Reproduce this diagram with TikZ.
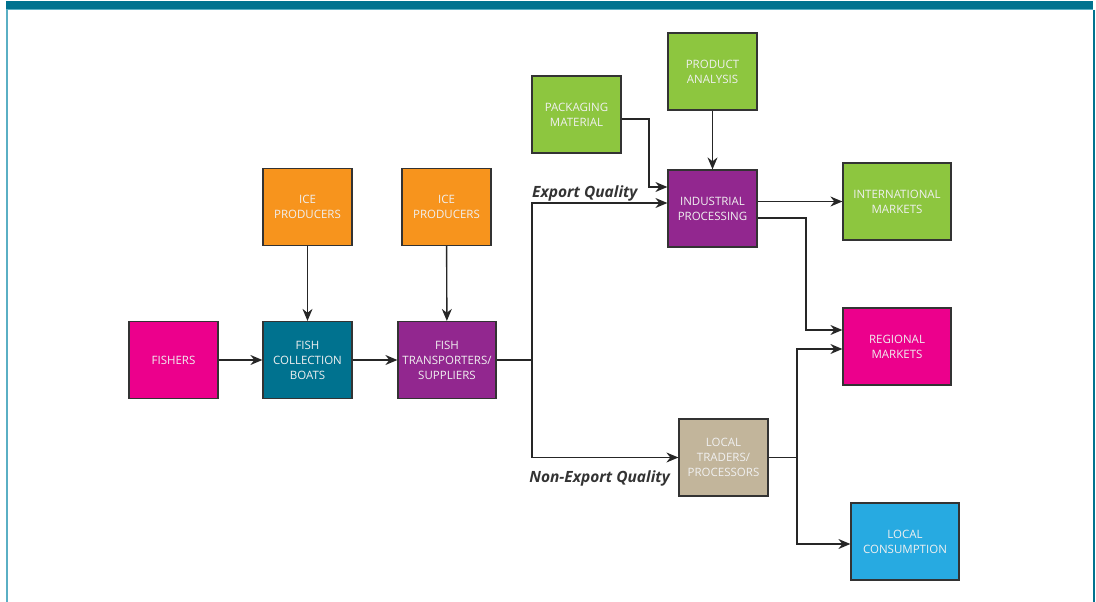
\documentclass[tikz,border=0pt]{standalone}
\usepackage{fontspec}
\setmainfont{Open Sans}
\usepackage{tikz}
\usetikzlibrary{arrows.meta}
\usepackage{xcolor}

\definecolor{fishpink}{HTML}{EC008C}
\definecolor{boatteal}{HTML}{00728F}
\definecolor{transpurple}{HTML}{92278F}
\definecolor{iceorange}{HTML}{F7941D}
\definecolor{marketgreen}{HTML}{8DC63F}
\definecolor{tradertan}{HTML}{C2B59B}
\definecolor{consblue}{HTML}{27AAE1}
\definecolor{framelight}{HTML}{5AAFC4}
\definecolor{boxline}{HTML}{333333}
\definecolor{linegray}{HTML}{262626}

\begin{document}
\begin{tikzpicture}[x=1pt, y=-1pt,
    box/.style={draw=boxline, line width=1.2pt, minimum width=89pt, minimum height=77pt,
                inner sep=0pt, align=center, text=white!94!black,
                font=\fontsize{11.5}{15}\selectfont},
    widebox/.style={box, minimum width=108pt},
    flow/.style={draw=linegray, line width=1.4pt, -{Stealth[length=12pt, width=10pt]}},
    quality/.style={text=boxline, font=\fontsize{15.5}{18}\selectfont\bfseries\itshape, inner sep=0pt}]

    \useasboundingbox (0,0) rectangle (1096,602);

    % --- 1. THE FRAME ---
    \fill[boatteal] (6,1) rectangle (1093,9);
    \draw[framelight, line width=1pt] (6,10) -- (1093,10);
    \draw[framelight, line width=2pt] (7,10) -- (7,602);
    \draw[boatteal, line width=1.5pt] (1094,10) -- (1094,602);

    % --- 2. THE BOXES ---
    \node[box, fill=fishpink]    (fishers) at (173.5,360)  {FISHERS};
    \node[box, fill=boatteal]    (boats)   at (307.5,360)  {FISH\\COLLECTION\\BOATS};
    \node[box, fill=transpurple, minimum width=98pt] (trans) at (447,360) {FISH\\TRANSPORTERS/\\SUPPLIERS};
    \node[box, fill=iceorange]   (iceA)    at (307.5,207)  {ICE\\PRODUCERS};
    \node[box, fill=iceorange]   (iceB)    at (446.5,207)  {ICE\\PRODUCERS};
    \node[box, fill=marketgreen] (pack)    at (576.5,114.5) {PACKAGING\\MATERIAL};
    \node[box, fill=marketgreen] (analysis) at (712.5,71.5) {PRODUCT\\ANALYSIS};
    \node[box, fill=transpurple] (ip)      at (712.5,208.5) {INDUSTRIAL\\PROCESSING};
    \node[widebox, fill=marketgreen] (intl) at (897,201.5) {INTERNATIONAL\\MARKETS};
    \node[widebox, fill=fishpink] (reg)    at (897,346.5)  {REGIONAL\\MARKETS};
    \node[box, fill=tradertan]   (trader)  at (723.5,457.5) {LOCAL\\TRADERS/\\PROCESSORS};
    \node[widebox, fill=consblue] (cons)   at (905,541.5)  {LOCAL\\CONSUMPTION};

    % --- 3. QUALITY LABELS ---
    \node[quality, anchor=base west] (expq)  at (532,197) {Export Quality};
    \node[quality, anchor=base east] (nexpq) at (670,482) {Non-Export Quality};

    % --- 4. CONNECTORS ---
    \coordinate (split)    at (532,360);
    \coordinate (packturn) at (649,187);
    \coordinate (ipturn)   at (806,330);
    \coordinate (tsplit)   at (797,457.5);

    \draw[flow] (fishers) -- (boats);
    \draw[flow] (boats) -- (trans);
    \draw[flow] (iceA) -- (boats);
    \draw[flow] (iceB) -- (trans);
    \draw[flow] (analysis) -- (ip);

    \draw[flow] (trans.east) -- (split) |- ([yshift=5.5pt]ip.west);
    \draw[flow] (split) |- (trader.west);
    \draw[flow] ([yshift=-4.5pt]pack.east) -| (packturn) -- ([yshift=21.5pt]ip.west);

    \draw[flow] (ip.east |- intl.west) -- (intl.west);
    \draw[flow] ([yshift=-9.5pt]ip.east) -| (ipturn) -- ([yshift=16.5pt]reg.west);

    \draw[flow] (trader.east) -- (tsplit) |- ([yshift=-2.5pt]reg.west);
    \draw[flow] (tsplit) |- ([yshift=-2.5pt]cons.west);

\end{tikzpicture}
\end{document}
